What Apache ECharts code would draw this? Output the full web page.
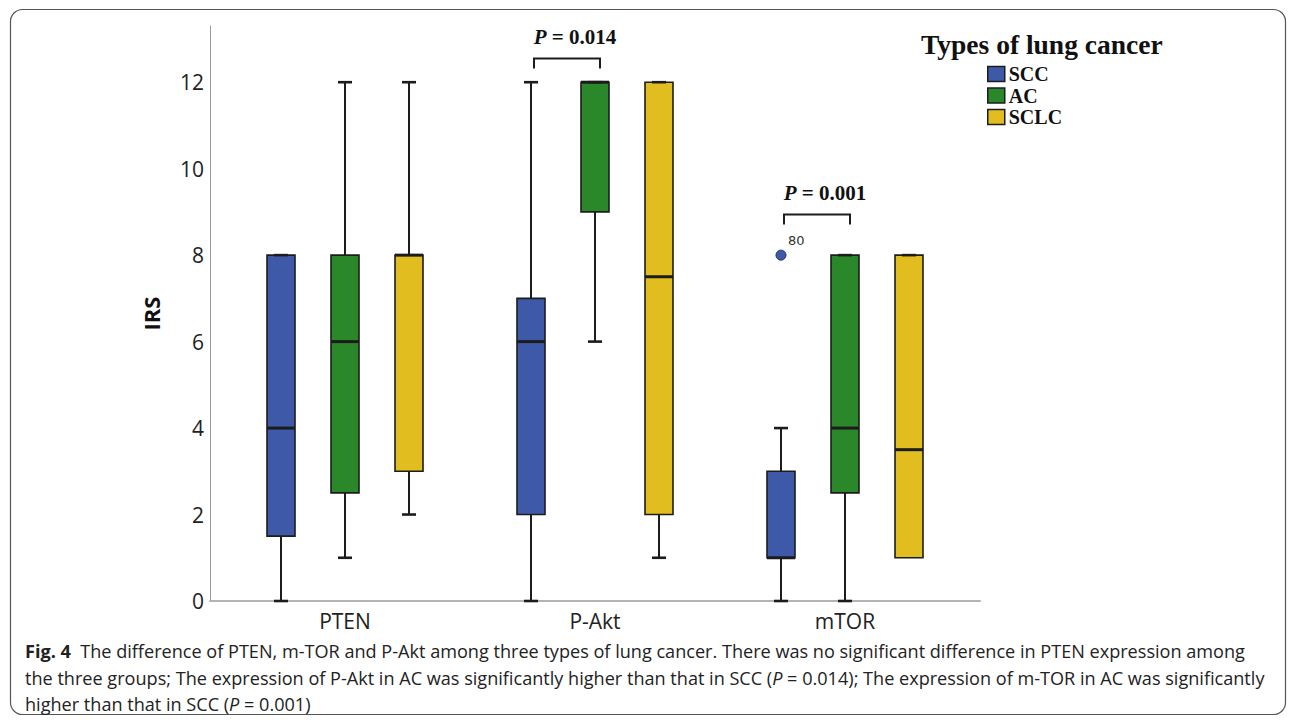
<!DOCTYPE html>
<html>
<head>
<meta charset="utf-8">
<title>IRS by lung cancer type</title>
<script src="https://cdn.jsdelivr.net/npm/echarts@6/dist/echarts.min.js"></script>
<style>
  html, body { margin: 0; padding: 0; background: #ffffff; }
  #chart { width: 1295px; height: 722px; }
</style>
</head>
<body>
<div id="chart"></div>
<script>
// ---------------- data ----------------
const categories = ['PTEN', 'P-Akt', 'mTOR'];
const groups = ['SCC', 'AC', 'SCLC'];
// each entry: [min, Q1, median, Q3, max] for PTEN, P-Akt, mTOR
const sccValues  = [[0, 1.5, 4, 8, 8],   [0, 2, 6, 7, 12],     [0, 1, 1, 3, 4]];
const acValues   = [[1, 2.5, 6, 8, 12],  [6, 9, 12, 12, 12],   [0, 2.5, 4, 8, 8]];
const sclcValues = [[2, 3, 8, 8, 12],    [1, 2, 7.5, 12, 12],  [1, 1, 3.5, 8, 8]];
// outliers: category index, group index, value, case label
const outlierCats = [2];
const outlierGroups = [0];
const outlierValues = [8];
const outlierLabels = ['80'];
// significance brackets (SCC vs AC): category index, bracket level, p value text
const pCats = [1, 2];
const pLevels = [12.55, 8.94];
const pTexts = ['0.014', '0.001'];
const yTicks = [0, 2, 4, 6, 8, 10, 12];

// ---------------- style ----------------
const COLORS = ['#3e59a8', '#2b882a', '#e2bd1f'];
const EDGE = '#1c1c1c';
const GROUP_STEP = 0.256;   // offset between boxes, fraction of band
const BOX_W = 0.112;        // box width, fraction of band
const CAP_W = 0.056;        // whisker cap width, fraction of band
const Y_MAX = 13.3;

const groupValues = [sccValues, acValues, sclcValues];

function makeBoxRender(gi) {
  return function (params, api) {
    const ci = api.value(0);
    const band = api.size([1, 0])[0];
    const cx = api.coord([ci, 0])[0] + (gi - 1) * band * GROUP_STEP;
    const w = band * BOX_W, cw = band * CAP_W;
    const y = k => api.coord([ci, api.value(k)])[1];
    const yMin = y(1), yQ1 = y(2), yMed = y(3), yQ3 = y(4), yMax = y(5);
    const line = (x1, y1, x2, y2, lw) => ({
      type: 'line', shape: { x1, y1, x2, y2 },
      style: { stroke: EDGE, lineWidth: lw }
    });
    const children = [];
    if (yMax < yQ3) children.push(line(cx, yQ3, cx, yMax, 2));
    if (yMin > yQ1) children.push(line(cx, yMin, cx, yQ1, 2));
    children.push({
      type: 'rect',
      shape: { x: cx - w / 2, y: yQ3, width: w, height: yQ1 - yQ3 },
      style: { fill: COLORS[gi], stroke: EDGE, lineWidth: 1.6 }
    });
    if (yMax < yQ3 || api.value(5) === api.value(4)) children.push(line(cx - cw / 2, yMax, cx + cw / 2, yMax, 2.6));
    if (yMin > yQ1) children.push(line(cx - cw / 2, yMin, cx + cw / 2, yMin, 2.6));
    children.push(line(cx - w / 2, yMed, cx + w / 2, yMed, 3));
    return { type: 'group', children };
  };
}

const boxSeries = groups.map((g, gi) => ({
  name: g,
  type: 'custom',
  xAxisIndex: 1,
  yAxisIndex: 1,
  itemStyle: { color: COLORS[gi], borderColor: EDGE, borderWidth: 1.5 },
  encode: { x: 0, y: [1, 2, 3, 4, 5] },
  data: groupValues[gi].map((v, ci) => [ci].concat(v)),
  renderItem: makeBoxRender(gi),
  silent: true,
  z: 3
}));

const outlierSeries = {
  type: 'custom',
  xAxisIndex: 1,
  yAxisIndex: 1,
  encode: { x: 0, y: 2 },
  data: outlierCats.map((c, i) => [c, outlierGroups[i], outlierValues[i]]),
  renderItem: function (params, api) {
    const ci = api.value(0), gi = api.value(1);
    const band = api.size([1, 0])[0];
    const p = api.coord([ci, api.value(2)]);
    const cx = p[0] + (gi - 1) * band * GROUP_STEP;
    return {
      type: 'group', children: [
        { type: 'circle', shape: { cx: cx, cy: p[1], r: 5 },
          style: { fill: COLORS[gi], stroke: '#22315f', lineWidth: 1 } },
        { type: 'text', style: { x: cx + 7, y: p[1] - 15, text: outlierLabels[params.dataIndex],
          fill: '#333', fontSize: 13, fontFamily: 'DejaVu Sans', align: 'left', verticalAlign: 'middle' } }
      ]
    };
  },
  silent: true,
  z: 4
};

const pSeries = {
  type: 'custom',
  xAxisIndex: 1,
  yAxisIndex: 1,
  encode: { x: 0, y: 1 },
  data: pCats.map((c, i) => [c, pLevels[i]]),
  renderItem: function (params, api) {
    const ci = api.value(0);
    const band = api.size([1, 0])[0];
    const p = api.coord([ci, api.value(1)]);
    const x1 = p[0] - band * GROUP_STEP + 3, x2 = p[0] + 5;
    const yTop = p[1], leg = 10;
    return {
      type: 'group', children: [
        { type: 'polyline', shape: { points: [[x1, yTop + leg], [x1, yTop], [x2, yTop], [x2, yTop + leg]] },
          style: { stroke: EDGE, lineWidth: 2, fill: null } },
        { type: 'text', style: {
            x: (x1 + x2) / 2 + 8, y: yTop - 21,
            text: '{i|P} = ' + pTexts[params.dataIndex],
            fill: '#111', fontSize: 21, fontWeight: 'bold', fontFamily: 'Liberation Serif',
            align: 'center', verticalAlign: 'middle',
            rich: { i: { fontStyle: 'italic', fontWeight: 'bold', fontSize: 21, fontFamily: 'Liberation Serif', fill: '#111' } }
        } }
      ]
    };
  },
  silent: true,
  z: 4
};

const captionLines = [
  '{b|Fig. 4}  The difference of PTEN, m-TOR and P-Akt among three types of lung cancer. There was no significant difference in PTEN expression among',
  'the three groups; The expression of P-Akt in AC was significantly higher than that in SCC ({i|P} = 0.014); The expression of m-TOR in AC was significantly',
  'higher than that in SCC ({i|P} = 0.001)'
];

const CAP_FS = 18.1;

const chart = echarts.init(document.getElementById('chart'), null, { renderer: 'svg' });
chart.setOption({
  animation: false,
  backgroundColor: '#ffffff',
  title: [
    {
      text: 'Types of lung cancer',
      left: 916, top: 25,
      textStyle: { fontFamily: 'Liberation Serif', fontWeight: 'bold', fontSize: 27.5, color: '#111' }
    },
    {
      text: captionLines.join('\n'),
      left: 20, top: 633,
      textStyle: {
        fontFamily: 'Open Sans', fontSize: CAP_FS, color: '#222', lineHeight: 26.5, fontWeight: 'normal',
        rich: {
          b: { fontFamily: 'Open Sans', fontSize: CAP_FS, fontWeight: 'bold', color: '#222', lineHeight: 26.5 },
          i: { fontFamily: 'Open Sans', fontSize: CAP_FS, fontStyle: 'italic', color: '#222', lineHeight: 26.5 }
        }
      }
    }
  ],
  legend: {
    orient: 'vertical',
    left: 982, top: 59,
    itemWidth: 17, itemHeight: 15, itemGap: 1.5,
    icon: 'rect',
    selectedMode: false,
    textStyle: { fontFamily: 'Liberation Serif', fontWeight: 'bold', fontSize: 20, color: '#111', padding: [0, 0, 0, -1] },
    data: groups.map((g, gi) => ({ name: g, itemStyle: { color: COLORS[gi], borderColor: EDGE, borderWidth: 1.5 } }))
  },
  grid: [
    { left: 210, right: 315, top: 26, bottom: 121 },
    { left: 220, right: 325, top: 26, bottom: 121 }
  ],
  xAxis: [
    {
      type: 'value', gridIndex: 0, min: 0, max: 1,
      axisLine: { show: true, lineStyle: { color: '#b3b3b3', width: 2 } },
      axisTick: { show: false }, axisLabel: { show: false }, splitLine: { show: false }
    },
    {
      type: 'category', gridIndex: 1, data: categories,
      axisLine: { show: false }, axisTick: { show: false }, splitLine: { show: false },
      axisLabel: { fontFamily: 'Open Sans', fontSize: 21, color: '#222', margin: 9 }
    }
  ],
  yAxis: [
    {
      type: 'value', gridIndex: 0, min: 0, max: Y_MAX, interval: 2,
      name: 'IRS', nameLocation: 'middle', nameGap: 48,
      nameTextStyle: { fontFamily: 'Open Sans', fontWeight: 'bold', fontSize: 22, color: '#111' },
      axisLine: { show: true, lineStyle: { color: '#9a9a9a', width: 1 } },
      axisTick: { show: false }, splitLine: { show: false },
      axisLabel: {
        fontFamily: 'Open Sans', fontSize: 21, color: '#222', margin: 6,
        showMaxLabel: false,
        formatter: v => (yTicks.indexOf(v) >= 0 ? String(v) : '')
      }
    },
    {
      type: 'value', gridIndex: 1, min: 0, max: Y_MAX, show: false
    }
  ],
  graphic: [
    {
      type: 'rect', silent: true, z: -1,
      shape: { x: 10.5, y: 9.5, width: 1275, height: 705, r: 12 },
      style: { fill: 'none', stroke: '#555', lineWidth: 1.2 }
    }
  ],
  series: boxSeries.concat([outlierSeries, pSeries])
});
</script>
</body>
</html>
